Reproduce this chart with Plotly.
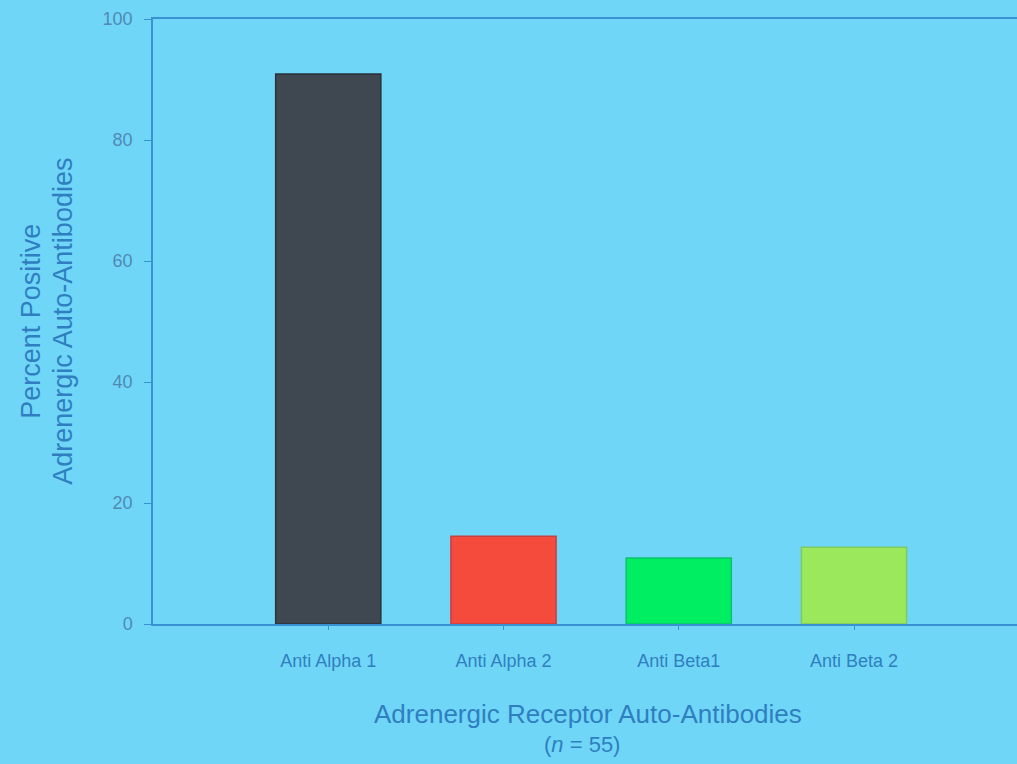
import plotly.graph_objects as go

categories = ["Anti Alpha 1", "Anti Alpha 2", "Anti Beta1", "Anti Beta 2"]
percent_positive = [90.9, 14.5, 10.9, 12.7]
bar_colors = ["#3f4851", "#f44b3c", "#00ee62", "#9ce85c"]
y_ticks = [0, 20, 40, 60, 80, 100]

bg = "#6fd6f8"
axis_col = "#3b92d2"
text_col = "#2f7fc0"
FONT = "Liberation Sans, Arial, sans-serif"

fig = go.Figure()
fig.add_trace(go.Bar(
    x=list(range(len(categories))),
    y=percent_positive,
    width=0.6,
    marker=dict(color=bar_colors,
                line=dict(color=["#2a323a", "#c84040", "#10c070", "#80c860"], width=1.5)),
))

annotations = [
    dict(text="Adrenergic Receptor Auto-Antibodies", x=0.503, y=-0.149, size=26),
    dict(text="(<i>n</i> = 55)", x=0.497, y=-0.199, size=22),
    dict(text="Percent Positive", x=-0.142, y=0.50, textangle=-90, size=27),
    dict(text="Adrenergic Auto-Antibodies", x=-0.105, y=0.50, textangle=-90, size=27),
]
for a in annotations:
    size = a.pop("size")
    a.update(xref="paper", yref="paper", showarrow=False, xanchor="center", yanchor="middle",
             font=dict(family=FONT, size=size, color=text_col))

fig.update_layout(
    width=1017, height=764,
    paper_bgcolor=bg, plot_bgcolor=bg,
    margin=dict(l=153, r=0, t=19, b=140),
    showlegend=False,
    font=dict(family=FONT, color=text_col),
    annotations=annotations,
    xaxis=dict(
        range=[-1.0, 3.93],
        tickmode="array",
        tickvals=list(range(len(categories))),
        ticktext=categories,
        tickfont=dict(size=18, color=text_col),
        showline=True, linecolor=axis_col, linewidth=1.5, mirror=True,
        ticks="outside", ticklen=4, tickcolor=axis_col,
        ticklabelstandoff=16,
        showgrid=False, zeroline=False,
    ),
    yaxis=dict(
        range=[0, 100],
        tickvals=y_ticks,
        tickfont=dict(size=18, color="#4f8ab5"),
        showline=True, linecolor=axis_col, linewidth=1.5,
        ticks="outside", ticklen=7, tickcolor=axis_col,
        ticklabelstandoff=8,
        showgrid=False, zeroline=False,
    ),
)

fig.write_html("out.html",
               config={"displayModeBar": False},
               post_script="document.body.style.margin='0';document.body.style.padding='0';document.body.style.overflow='hidden';")
